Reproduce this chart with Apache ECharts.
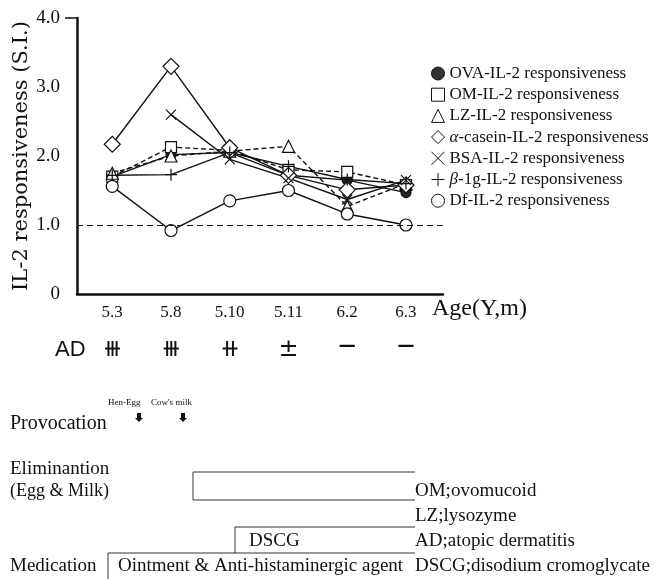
<!DOCTYPE html>
<html>
<head>
<meta charset="utf-8">
<script src="https://cdn.jsdelivr.net/npm/echarts@6/dist/echarts.min.js"></script>
<style>
  html, body { margin: 0; padding: 0; background: #fff; }
  #main { width: 655px; height: 579px; }
</style>
</head>
<body>
<div id="main"></div>
<script>
// ages (Y.m) and the clinical AD score at each visit
var ages = ['5.3', '5.8', '5.10', '5.11', '6.2', '6.3']
var adMarks = ['\u29FB', '\u29FB', '\u29FA', '\u00B1', '\u2014', '\u2014']
var yTicks = [0, 1, 2, 3, 4]
var baseline = 1.0

// IL-2 responsiveness (S.I.)
var ova = [1.70, 2.02, 2.05, 1.72, 1.65, 1.47]
var om = [1.70, 2.13, 2.08, 1.80, 1.77, 1.58]
var lz = [1.75, 2.00, 2.07, 2.14, 1.27, 1.60]
var casein = [2.17, 3.30, 2.12, 1.72, 1.51, 1.58]
var bsa = [null, 2.60, 1.95, 1.68, 1.37, 1.65]
var blg = [1.72, 1.73, 2.05, 1.85, 1.66, 1.60]
var df = [1.56, 0.92, 1.35, 1.50, 1.16, 1.00]

var serif = 'Liberation Serif'
var xPath = 'path://M0,0L10,10M10,0L0,10'
var plusPath = 'path://M5,0L5,10M0,5L10,5'

function pts (arr) {
  var out = []
  arr.forEach(function (v, i) {
    if (v !== null) out.push([i, v])
  })
  return out
}

function line (name, arr, symbol, size, dashed, fill) {
  return {
    name: name,
    type: 'line',
    data: pts(arr),
    symbol: symbol,
    symbolSize: size,
    showAllSymbol: true,
    lineStyle: { color: '#111', width: 1.4, type: dashed ? [5, 3] : 'solid' },
    itemStyle: { color: fill || '#fff', borderColor: '#111', borderWidth: 1.2 },
    emphasis: { disabled: true },
    animation: false
  }
}

var names = [
  'OVA-IL-2 responsiveness',
  'OM-IL-2 responsiveness',
  'LZ-IL-2 responsiveness',
  'casein',
  'BSA-IL-2 responsiveness',
  'blg',
  'Df-IL-2 responsiveness'
]

var chart = echarts.init(document.getElementById('main'))

var series = [
  {
    // dashed reference line at S.I. = 1.0
    name: 'ref',
    type: 'line',
    data: [],
    z: 1,
    markLine: {
      silent: true,
      symbol: 'none',
      label: { show: false },
      lineStyle: { color: '#111', width: 1, type: [6, 4] },
      data: [{ yAxis: baseline }]
    }
  },
  line(names[0], ova, 'circle', 10, false, '#222'),
  line(names[1], om, 'rect', 11, true),
  line(names[2], lz, 'triangle', 12, true),
  line(names[3], casein, 'diamond', 16, false),
  line(names[4], bsa, xPath, 10, false),
  line(names[5], blg, plusPath, 12, false),
  line(names[6], df, 'circle', 12, false)
]

chart.setOption({
  animation: false,
  grid: { left: 77, right: 212, top: 18, bottom: 285, containLabel: false, outerBoundsMode: 'none' },
  xAxis: [
    {
      type: 'value',
      min: -0.6,
      max: 5.63,
      splitLine: { show: false },
      axisLine: { onZero: false, lineStyle: { color: '#111', width: 2.5 } },
      axisTick: { show: false },
      axisLabel: {
        customValues: [0, 1, 2, 3, 4, 5],
        formatter: function (v) { return ages[v] },
        color: '#111',
        fontFamily: serif,
        fontSize: 17,
        margin: 10
      }
    },
    {
      type: 'value',
      min: -0.6,
      max: 5.63,
      position: 'bottom',
      offset: 44,
      splitLine: { show: false },
      axisLine: { show: false },
      axisTick: { show: false },
      axisLabel: {
        customValues: [0, 1, 2, 3, 4, 5],
        formatter: function (v) {
          var m = adMarks[v]
          return m === '\u2014' ? '{d|' + m + '}' : '{s|' + m + '}'
        },
        color: '#111',
        margin: 0,
        rich: {
          s: { fontFamily: 'DejaVu Sans', fontSize: 24, color: '#111' },
          d: { fontFamily: 'DejaVu Sans', fontSize: 17, fontWeight: 'bold', color: '#111' }
        }
      }
    }
  ],
  yAxis: {
    type: 'value',
    min: 0,
    max: 4,
    interval: 1,
    name: 'IL-2 responsiveness (S.I.)',
    nameLocation: 'middle',
    nameRotate: 90,
    nameGap: 45,
    nameMoveOverlap: false,
    nameTextStyle: { fontFamily: 'DejaVu Serif', fontSize: 21, color: '#111' },
    splitLine: { show: false },
    axisLine: { onZero: false, lineStyle: { color: '#111', width: 2.5 } },
    axisTick: { customValues: [4], length: 12, lineStyle: { color: '#111', width: 1.5 } },
    axisLabel: {
      color: '#111',
      fontFamily: serif,
      fontSize: 19,
      margin: 17,
      customValues: yTicks,
      formatter: function (v) { return v === 0 ? '0' : v.toFixed(1) }
    }
  },
  legend: {
    orient: 'vertical',
    left: 426,
    top: 60,
    itemWidth: 13,
    itemHeight: 13,
    itemGap: 4.2,
    selectedMode: false,
    textStyle: {
      fontFamily: serif,
      fontSize: 17,
      color: '#111',
      rich: { it: { fontFamily: serif, fontSize: 17, fontStyle: 'italic', color: '#111' } }
    },
    formatter: function (n) {
      if (n === 'casein') return '{it|\u03B1}-casein-IL-2 responsiveness'
      if (n === 'blg') return '{it|\u03B2}-1g-IL-2 responsiveness'
      return n
    },
    itemStyle: { color: '#fff', borderColor: '#111', borderWidth: 1 },
    data: [
      { name: names[0], icon: 'circle', itemStyle: { color: '#333' } },
      { name: names[1], icon: 'rect' },
      { name: names[2], icon: 'triangle' },
      { name: names[3], icon: 'diamond' },
      { name: names[4], icon: xPath },
      { name: names[5], icon: plusPath },
      { name: names[6], icon: 'circle' }
    ]
  },
  graphic: [
    { type: 'text', left: 432, top: 297, style: { text: 'Age(Y,m)', font: '24px "Liberation Serif"', fill: '#111' } },
    { type: 'text', left: 55, top: 339, style: { text: 'AD', font: '22px "Liberation Sans"', fill: '#111' } },
    { type: 'text', left: 108, top: 398, style: { text: 'Hen-Egg', font: '9px "Liberation Serif"', fill: '#111' } },
    { type: 'text', left: 151, top: 398, style: { text: "Cow's milk", font: '9px "Liberation Serif"', fill: '#111' } },
    { type: 'polygon', shape: { points: [[137, 413], [141, 413], [141, 418], [143, 418], [139, 422], [135, 418], [137, 418]] }, style: { fill: '#111' } },
    { type: 'polygon', shape: { points: [[181, 413], [185, 413], [185, 418], [187, 418], [183, 422], [179, 418], [181, 418]] }, style: { fill: '#111' } },
    { type: 'text', left: 10, top: 414, style: { text: 'Provocation', font: '20px "Liberation Serif"', fill: '#111' } },
    { type: 'text', left: 10, top: 460, style: { text: 'Eliminantion', font: '19px "Liberation Serif"', fill: '#111' } },
    { type: 'text', left: 10, top: 482, style: { text: '(Egg & Milk)', font: '18px "Liberation Serif"', fill: '#111' } },
    { type: 'polyline', shape: { points: [[415, 472], [193, 472], [193, 500], [415, 500]] }, style: { stroke: '#333', lineWidth: 1, fill: null } },
    { type: 'polyline', shape: { points: [[415, 527], [235, 527], [235, 553]] }, style: { stroke: '#333', lineWidth: 1, fill: null } },
    { type: 'polyline', shape: { points: [[415, 553], [108, 553], [108, 579]] }, style: { stroke: '#333', lineWidth: 1, fill: null } },
    { type: 'text', left: 249, top: 532, style: { text: 'DSCG', font: '19px "Liberation Serif"', fill: '#111' } },
    { type: 'text', left: 10, top: 557, style: { text: 'Medication', font: '19px "Liberation Serif"', fill: '#111' } },
    { type: 'text', left: 118, top: 557, style: { text: 'Ointment & Anti-histaminergic agent', font: '19px "Liberation Serif"', fill: '#111' } },
    { type: 'text', left: 415, top: 482, style: { text: 'OM;ovomucoid', font: '19px "Liberation Serif"', fill: '#111' } },
    { type: 'text', left: 415, top: 507, style: { text: 'LZ;lysozyme', font: '19px "Liberation Serif"', fill: '#111' } },
    { type: 'text', left: 415, top: 532, style: { text: 'AD;atopic dermatitis', font: '19px "Liberation Serif"', fill: '#111' } },
    { type: 'text', left: 415, top: 557, style: { text: 'DSCG;disodium cromoglycate', font: '19px "Liberation Serif"', fill: '#111' } }
  ],
  series: series
})
</script>
</body>
</html>
